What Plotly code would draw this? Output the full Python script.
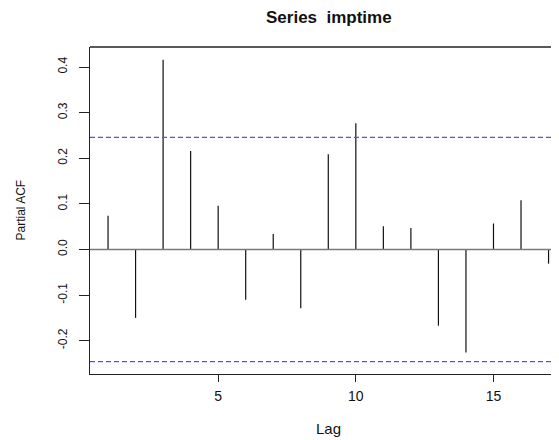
import plotly.graph_objects as go

lags = [1, 2, 3, 4, 5, 6, 7, 8, 9, 10, 11, 12, 13, 14, 15, 16, 17]
pacf = [0.074, -0.150, 0.416, 0.216, 0.096, -0.110, 0.034, -0.129, 0.209, 0.277,
        0.051, 0.047, -0.167, -0.226, 0.057, 0.108, -0.031]
conf = 0.246
y_ticks = [-0.2, -0.1, 0.0, 0.1, 0.2, 0.3, 0.4]
y_tick_text = ["-0.2", "-0.1", "0.0", "0.1", "0.2", "0.3", "0.4"]
x_ticks = [5, 10, 15]
title = "Series\u00a0 imptime"

xs, ys = [], []
for l, v in zip(lags, pacf):
    xs += [l, l, None]
    ys += [0, v, None]

fig = go.Figure()
fig.add_trace(go.Scatter(x=xs, y=ys, mode="lines",
                         line=dict(color="#111111", width=1.2),
                         hoverinfo="skip", showlegend=False))

x_range = [0.345, 17.67]
y_range = [-0.273, 0.444]

fig.add_hline(y=0, line=dict(color="#7a7a7a", width=1.6))
fig.add_hline(y=conf, line=dict(color="#5252ee", width=1.2, dash="5px,3px"))
fig.add_hline(y=-conf, line=dict(color="#5252ee", width=1.2, dash="5px,3px"))
fig.add_shape(type="line", xref="paper", yref="paper", x0=0, x1=1, y0=1, y1=1,
              line=dict(color="#222222", width=1.3))
fig.add_shape(type="line", xref="paper", yref="paper", x0=1, x1=1, y0=0, y1=1,
              line=dict(color="#222222", width=1.3))

font = "Liberation Sans, Arial, sans-serif"
fig.update_layout(
    width=559, height=440,
    margin=dict(l=82, r=0, t=39, b=74),
    plot_bgcolor="white", paper_bgcolor="white",
    font=dict(family=font, size=13, color="#111111"),
    showlegend=False,
    annotations=[
        dict(text="<b>" + title + "</b>", xref="paper", yref="paper",
             x=0.5, y=1, yshift=30, xanchor="center", yanchor="middle",
             showarrow=False, font=dict(size=17, family=font, color="#111111")),
        dict(text="Lag", xref="paper", yref="paper", x=0.5, y=0, yshift=-54,
             xanchor="center", yanchor="middle",
             showarrow=False, font=dict(size=15, family=font, color="#111111")),
        dict(text="Partial ACF", xref="paper", yref="paper", x=0, xshift=-70,
             y=0.5, xanchor="center", yanchor="middle", textangle=-90,
             showarrow=False, font=dict(size=12, family=font, color="#111111")),
    ],
)
fig.update_xaxes(range=x_range, tickvals=x_ticks, ticks="outside", ticklen=7,
                 tickwidth=1.2, tickcolor="#222222", showline=True, linecolor="#222222",
                 linewidth=1.3, showgrid=False, zeroline=False, mirror=False,
                 tickfont=dict(size=14), ticklabelstandoff=2)
fig.update_yaxes(range=y_range, tickvals=y_ticks, ticktext=y_tick_text,
                 ticks="outside", ticklen=10, tickwidth=1.2, tickcolor="#222222",
                 showline=True, linecolor="#222222", linewidth=1.3, showgrid=False,
                 zeroline=False, mirror=False, tickangle=-90, tickfont=dict(size=12),
                 ticklabelstandoff=7)

fig.write_html("out.html")
